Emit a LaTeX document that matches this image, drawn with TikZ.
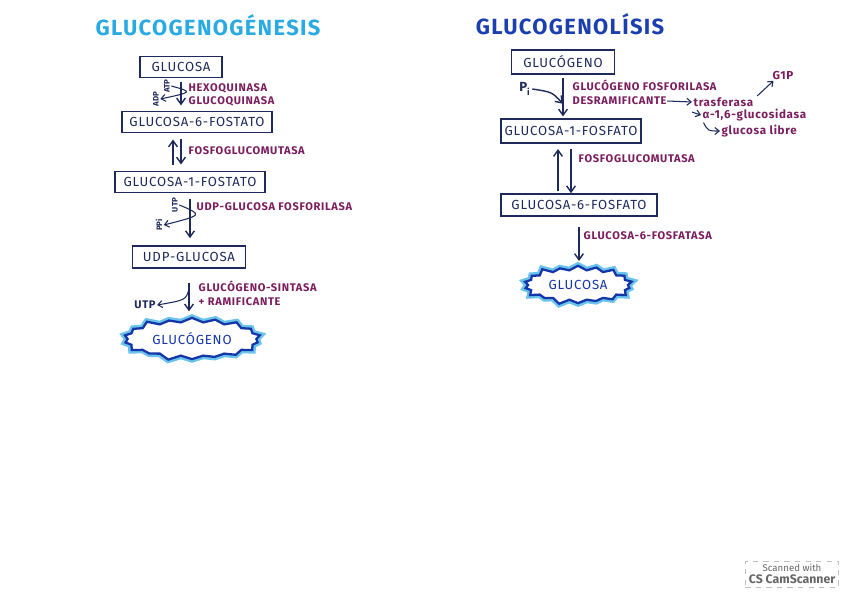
\documentclass[tikz,border=0pt]{standalone}
\usepackage{fontspec}
\setmainfont{Fira Sans}
\newfontfamily\manofont[LetterSpace=6]{Fira Sans}
\usetikzlibrary{shapes.symbols,arrows.meta}

\definecolor{tinta}{HTML}{1F2A5C}
\definecolor{morado}{HTML}{7A1E5E}
\definecolor{celeste}{HTML}{2AAAE2}
\definecolor{azul}{HTML}{1B3FAE}
\definecolor{azulos}{HTML}{1536A8}

\newcommand{\fcaja}{\manofont\fontsize{7.5}{9}\selectfont}
\newcommand{\fenz}{\manofont\bfseries\fontsize{6.3}{7.5}\selectfont}
\newcommand{\fchico}{\fontsize{4.5}{5}\selectfont\bfseries}
\newcommand{\fmin}{\manofont\bfseries\fontsize{6.6}{7.5}\selectfont}
\newcommand{\ftitulo}{\manofont\bfseries\fontsize{12.5}{14}\selectfont}

\begin{document}
\begin{tikzpicture}[x=0.02cm, y=-0.02cm, thick,
    caja/.style={rectangle, draw=tinta, text=tinta, font=\fcaja, line width=0.9pt, minimum height=0.42cm, inner xsep=2pt},
    enzima/.style={text=morado, font=\fenz, anchor=west, inner sep=0pt},
    chico/.style={text=tinta, font=\fchico, inner sep=0.5pt},
    minus/.style={text=morado, font=\fmin, anchor=west, inner sep=0.5pt},
    flecha/.style={draw=tinta, line width=0.8pt, -{Straight Barb[length=3.5pt,width=5pt]}},
    fina/.style={draw=tinta, line width=0.6pt, -{Straight Barb[length=2.5pt,width=4pt]}},
    estrella/.style={starburst, starburst points=18, starburst point height=0.12cm, draw=azulos, line width=1.3pt, fill=white, text=azulos, font=\fcaja, preaction={draw=celeste!70, line width=4pt}}]
    \useasboundingbox[fill=white] (0,0) rectangle (848,599);

    % glucogenogenesis
    \node[text=celeste, font=\ftitulo] (tit1) at (208,25) {GLUCOGENOGÉNESIS};
    \node[caja, minimum width=1.64cm] (glc) at (181,67) {GLUCOSA};
    \node[caja, minimum width=3cm] (g6p) at (197,122) {GLUCOSA-6-FOSTATO};
    \node[caja, minimum width=3cm] (g1p) at (190,182) {GLUCOSA-1-FOSTATO};
    \node[caja, minimum width=2.26cm, minimum height=0.44cm] (udpg) at (189,257) {UDP-GLUCOSA};
    \node[estrella, minimum width=1.95cm, minimum height=0.3cm] (glg) at (192,339) {GLUCÓGENO};

    \node[enzima] (hexo) at (188,88) {HEXOQUINASA};
    \node[enzima] (gluco) at (188,101) {GLUCOQUINASA};
    \node[enzima] (mut1) at (188,151) {FOSFOGLUCOMUTASA};
    \node[enzima] (udpf) at (196,207) {UDP-GLUCOSA FOSFORILASA};
    \node[enzima] (sint) at (198,286) {GLUCÓGENO-SINTASA};
    \node[enzima] (ramif) at (198,302) {+ RAMIFICANTE};

    \node[chico, rotate=90] (atp) at (167,86) {ATP};
    \node[chico, rotate=90] (adp) at (156,99) {ADP};
    \node[chico, rotate=90] (utp) at (175,205) {UTP};
    \node[chico, rotate=90] (ppi) at (159,225) {PPi};
    \node[chico, font=\fenz] (utp2) at (145,305) {UTP};

    \draw[flecha, shorten <=2pt, shorten >=3pt] (glc.south) -- (glc.south |- g6p.north);
    \draw[fina] (atp.south) .. controls (193,92) .. (adp.south);
    \draw[flecha, shorten <=3.5pt, shorten >=3.5pt] (g6p.south -| glc.south) -- (g1p.north -| glc.south);
    \draw[flecha, shorten <=3.5pt, shorten >=3.5pt] ([xshift=-0.16cm]g1p.north -| glc.south) -- ([xshift=-0.16cm]g6p.south -| glc.south);
    \draw[flecha, shorten <=3pt, shorten >=4pt] (g1p.south) -- (g1p.south |- udpg.north);
    \draw[fina] (utp.south) .. controls (203,215) .. (ppi.south);
    \draw[flecha, shorten <=8pt, shorten >=3pt] (udpg.south) -- (udpg.south |- glg.north);
    \draw[fina] ([yshift=-0.4cm]udpg.south) .. controls (186,300) .. (utp2.east);

    % glucogenolisis
    \node[text=azul, font=\ftitulo] (tit2) at (570,24) {GLUCOGENOLÍSIS};
    \node[caja, minimum width=2.06cm, minimum height=0.48cm] (glg2) at (563,62) {GLUCÓGENO};
    \node[caja, minimum width=2.76cm, minimum height=0.48cm] (g1p2) at (571,131) {GLUCOSA-1-FOSFATO};
    \node[caja, minimum width=3.12cm, minimum height=0.44cm] (g6p2) at (579,205) {GLUCOSA-6-FOSFATO};
    \node[estrella, minimum width=1.25cm, minimum height=0.3cm] (glc2) at (578,285) {GLUCOSA};

    \node[enzima] (fosf) at (572,85) {GLUCÓGENO FOSFORILASA};
    \node[enzima] (desr) at (572,101) {DESRAMIFICANTE};
    \node[minus] (tras) at (692,102) {trasferasa};
    \node[minus] (g1pl) at (771,75) {G1P};
    \node[minus] (alfa) at (701,115) {α-1,6-glucosidasa};
    \node[minus] (libre) at (720,131) {glucosa libre};
    \node[enzima] (mut2) at (578,159) {FOSFOGLUCOMUTASA};
    \node[enzima] (g6pasa) at (583,236) {GLUCOSA-6-FOSFATASA};
    \node[chico, font=\fcaja\bfseries] (pi) at (525,89) {P\textsubscript{i}};

    \draw[flecha, shorten <=2pt, shorten >=1pt] (glg2.south) -- (glg2.south |- g1p2.north);
    \draw[flecha] (pi.east) .. controls (552,92) .. ([yshift=-0.58cm]glg2.south);
    \draw[fina] (desr.east) -- (tras.west);
    \draw[fina] ([xshift=0.05cm]tras.north east) -- ([xshift=0.05cm]g1pl.south west);
    \draw[fina] ([yshift=-0.08cm]tras.south west) -- (alfa.west);
    \draw[fina] ([xshift=0.05cm]alfa.south west) .. controls (708,131) .. (libre.west);
    \draw[flecha, shorten <=3pt, shorten >=0pt] (g1p2.south) -- (g1p2.south |- g6p2.north);
    \draw[flecha, shorten <=1pt, shorten >=3pt] ([xshift=-0.26cm]g6p2.north -| g1p2.south) -- ([xshift=-0.26cm]g1p2.south);
    \draw[flecha, shorten <=6pt, shorten >=2pt] (g6p2.south) -- (g6p2.south |- glc2.north);

    % marca del escaner
    \node[draw=gray!50, dashed, thin, text=gray!80!black, align=center, inner sep=2pt, font=\fontsize{5.5}{6.5}\selectfont] (marca) at (792,574) {Scanned with\\{\fontsize{7}{8}\selectfont\bfseries CS CamScanner}};
\end{tikzpicture}
\end{document}
